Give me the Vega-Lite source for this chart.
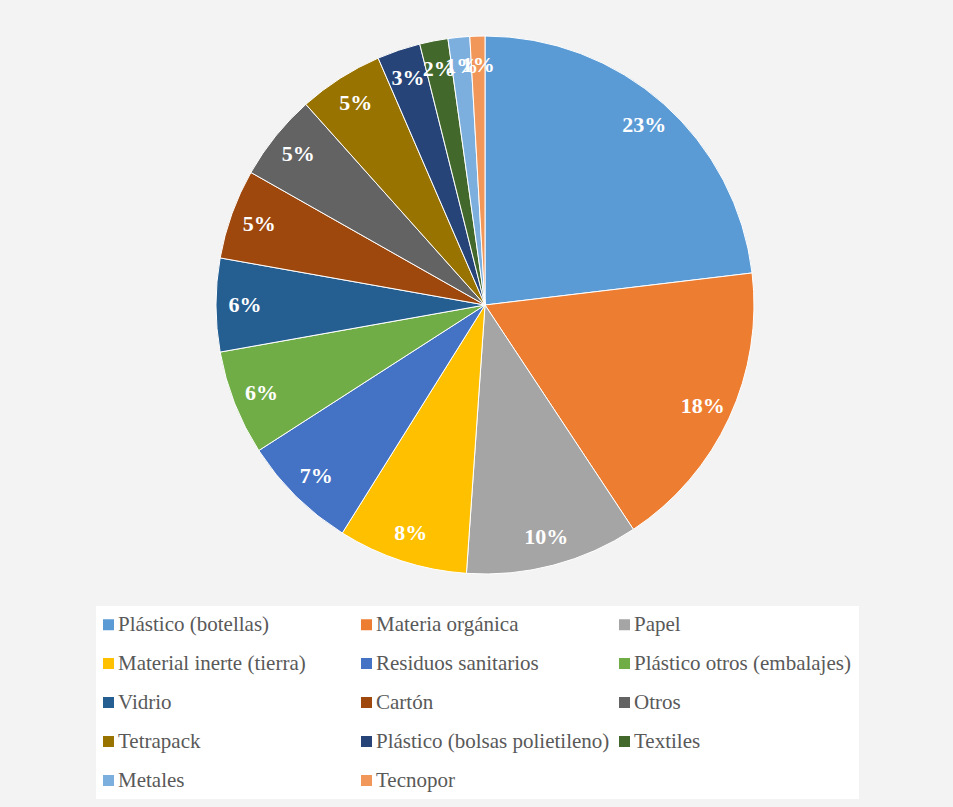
{
  "$schema": "https://vega.github.io/schema/vega-lite/v6.json",
  "width": 936,
  "height": 598,
  "padding": {"left": 17, "top": 6, "right": 0, "bottom": 203},
  "autosize": {"type": "none"},
  "background": "#f3f3f3",
  "config": {"view": {"stroke": null}},
  "data": {
    "values": [
      {"material": "Plástico (botellas)", "pct": 0.231, "ord": 1},
      {"material": "Materia orgánica", "pct": 0.176, "ord": 2},
      {"material": "Papel", "pct": 0.104, "ord": 3},
      {"material": "Material inerte (tierra)", "pct": 0.078, "ord": 4},
      {"material": "Residuos sanitarios", "pct": 0.070, "ord": 5},
      {"material": "Plástico otros (embalajes)", "pct": 0.063, "ord": 6},
      {"material": "Vidrio", "pct": 0.056, "ord": 7},
      {"material": "Cartón", "pct": 0.054, "ord": 8},
      {"material": "Otros", "pct": 0.052, "ord": 9},
      {"material": "Tetrapack", "pct": 0.051, "ord": 10},
      {"material": "Plástico (bolsas polietileno)", "pct": 0.026, "ord": 11},
      {"material": "Textiles", "pct": 0.017, "ord": 12},
      {"material": "Metales", "pct": 0.013, "ord": 13},
      {"material": "Tecnopor", "pct": 0.009, "ord": 14}
    ]
  },
  "encoding": {
    "theta": {"field": "pct", "type": "quantitative", "stack": true},
    "order": {"field": "ord", "type": "quantitative"}
  },
  "layer": [
    {
      "mark": {"type": "arc", "outerRadius": 269, "stroke": "#ffffff", "strokeWidth": 1},
      "encoding": {
        "color": {
          "field": "material",
          "type": "nominal",
          "scale": {
            "domain": ["Plástico (botellas)", "Materia orgánica", "Papel", "Material inerte (tierra)", "Residuos sanitarios", "Plástico otros (embalajes)", "Vidrio", "Cartón", "Otros", "Tetrapack", "Plástico (bolsas polietileno)", "Textiles", "Metales", "Tecnopor"],
            "range": ["#5B9BD5", "#ED7D31", "#A5A5A5", "#FFC000", "#4472C4", "#70AD47", "#255E91", "#9E480E", "#636363", "#997300", "#264478", "#43682B", "#7CAFDD", "#F1975A"]
          },
          "legend": {
            "title": null,
            "orient": "none",
            "legendX": 79,
            "legendY": 600,
            "direction": "horizontal",
            "columns": 3,
            "gridAlign": "all",
            "columnPadding": 9,
            "rowPadding": 17,
            "symbolType": "square",
            "symbolSize": 121,
            "symbolStrokeWidth": 0,
            "symbolOffset": -6,
            "labelOffset": -1,
            "labelFont": "Liberation Serif",
            "labelFontSize": 21,
            "labelColor": "#595959",
            "labelLimit": 400,
            "fillColor": "#ffffff",
            "padding": 8
          }
        }
      }
    },
    {
      "mark": {"type": "text", "radius": 240, "font": "Liberation Serif", "fontWeight": "bold", "fontSize": 22, "color": "#ffffff"},
      "encoding": {
        "text": {"field": "pct", "type": "quantitative", "format": ".0%"}
      }
    }
  ]
}
